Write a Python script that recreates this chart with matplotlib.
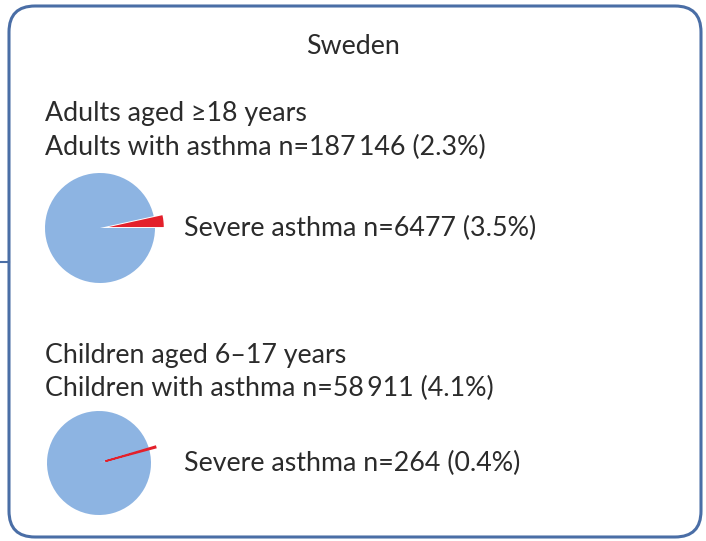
import matplotlib
matplotlib.use("Agg")
import matplotlib.pyplot as plt
from matplotlib.patches import FancyBboxPatch

plt.rcParams['font.family'] = ['Lato', 'DejaVu Sans']

# Data
country = "Sweden"
groups = ["Adults aged \u226518 years", "Children aged 6\u201317 years"]
with_asthma_labels = ["Adults with asthma n=187\u2009146 (2.3%)",
                      "Children with asthma n=58\u2009911 (4.1%)"]
asthma_n = [187146, 58911]
severe_n = [6477, 264]
severe_labels = ["Severe asthma n=6477 (3.5%)", "Severe asthma n=264 (0.4%)"]

BLUE = "#8DB4E2"
RED = "#E3202B"
EDGE = "#4A6EA6"
TEXT = "#2B2B2B"

W, H = 706, 541
fig = plt.figure(figsize=(W / 100, H / 100), dpi=100)
bg = fig.add_axes([0, 0, 1, 1])
bg.set_xlim(0, W)
bg.set_ylim(H, 0)
bg.axis("off")

# Rounded frame
frame = FancyBboxPatch((9, 6), 692, 531,
                       boxstyle="round,pad=0,rounding_size=26",
                       fc="white", ec=EDGE, lw=2.2)
bg.add_patch(frame)
bg.plot([0, 9], [262, 262], color=EDGE, lw=1.5)

fs = 19.3
bg.text(353, 46, country, ha="center", va="center", fontsize=fs, color=TEXT)

header_y = [(113, 147), (355, 388)]
pie_centres = [(100, 228, 55), (99, 463, 52)]
start_angles = [0, 15]
explodes = [0.16, 0.13]
red_edge = [0, 1.2]
sev_label_y = [228, 463]

for i in range(2):
    y1, y2 = header_y[i]
    bg.text(45, y1, groups[i], ha="left", va="center", fontsize=fs, color=TEXT)
    bg.text(45, y2, with_asthma_labels[i], ha="left", va="center", fontsize=fs, color=TEXT)

    cx, cy, r = pie_centres[i]
    ax = fig.add_axes([(cx - r) / W, 1 - (cy + r) / H, 2 * r / W, 2 * r / H])
    vals = [severe_n[i], asthma_n[i] - severe_n[i]]
    wedges, _ = ax.pie(vals, colors=[RED, BLUE], startangle=start_angles[i],
                       counterclock=True, explode=[explodes[i], 0], radius=1.0,
                       wedgeprops=dict(linewidth=0))
    wedges[0].set_edgecolor(RED)
    wedges[0].set_linewidth(red_edge[i])
    wedges[0].set_zorder(3)
    ax.set_xlim(-1, 1)
    ax.set_ylim(-1, 1)
    ax.set_aspect("equal")
    ax.axis("off")
    for p in ax.patches:
        p.set_clip_on(False)

    bg.text(184, sev_label_y[i], severe_labels[i], ha="left", va="center",
            fontsize=fs, color=TEXT)

fig.savefig("out.png", dpi=100)
